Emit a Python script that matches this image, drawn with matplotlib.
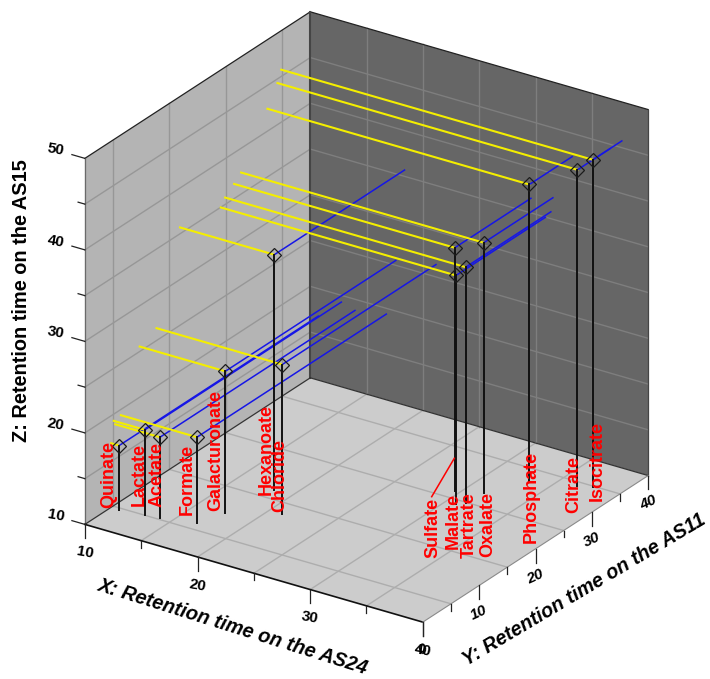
#!/usr/bin/env python3
import numpy as np
import matplotlib
matplotlib.use("Agg")
import matplotlib.pyplot as plt
from matplotlib.lines import Line2D
from mpl_toolkits.mplot3d import proj3d
from mpl_toolkits.mplot3d.art3d import Poly3DCollection

plt.rcParams["font.family"] = ["Liberation Sans", "DejaVu Sans"]

W, H = 710, 679

# retention times
names = ["Quinate", "Lactate", "Acetate", "Formate", "Galacturonate", "Hexanoate", "Chloride",
         "Sulfate", "Malate", "Tartrate", "Oxalate", "Phosphate", "Citrate", "Isocitrate"]
rt_x = [10.71, 12.76, 13.97, 16.75, 17.60, 18.37, 21.16, 30.88, 29.59, 31.36, 31.54, 33.25, 36.63, 37.66]
rt_y = [4.67, 5.13, 5.39, 6.40, 9.73, 16.89, 12.72, 24.12, 26.49, 24.89, 27.73, 32.40, 34.19, 34.85]
rt_z = [17.00, 19.26, 18.78, 19.37, 25.54, 35.69, 26.35, 34.98, 36.60, 35.75, 37.35, 42.45, 44.54, 45.74]

x_ticks = [10, 20, 30, 40]
y_ticks = [0, 10, 20, 30, 40]
z_ticks = [10, 20, 30, 40, 50]
x_minor = [15, 25, 35]
y_minor = [5, 15, 25, 35]
z_minor = [15, 25, 35, 45]
x_grid = [15, 20, 25, 30, 35]
y_grid = [5, 15, 25, 35]
z_grid = [15, 20, 25, 30, 35, 40, 45]

# label anchors in picture pixels: centre x, bottom y
label_pos = {
    "Quinate": (109, 508), "Lactate": (139, 506), "Acetate": (157, 507), "Formate": (187, 515),
    "Galacturonate": (216, 511), "Hexanoate": (266, 495), "Chloride": (280, 512),
    "Sulfate": (433, 558), "Malate": (453, 549), "Tartrate": (469, 558), "Oxalate": (488, 557),
    "Phosphate": (531, 543), "Citrate": (574, 513), "Isocitrate": (597, 501),
}

x0, x1 = 10, 40
y0, y1 = 0, 40
z0, z1 = 10, 50

fig = plt.figure(figsize=(W / 100, H / 100), dpi=100)
side = 683
ax = fig.add_axes([15.8 / W, 11.3 / H, side / W, side / H], projection="3d", proj_type="ortho")
ax.set_xlim(x0, x1)
ax.set_ylim(y0, y1)
ax.set_zlim(z0, z1)
ax.set_box_aspect((1, 1, 1))
ax.view_init(elev=25.7, azim=-56.3)
ax.computed_zorder = False
ax.set_axis_off()


def tick_label(x, y, z, s, **kw):
    # project by hand so the label is an ordinary 2D text
    px, py, _ = proj3d.proj_transform(x, y, z, ax.get_proj())
    ax.text2D(px, py, s, transform=ax.transData, ha="center", va="center", fontsize=11, fontweight="bold", zorder=9, **kw)


# walls
walls = [
    ([(x0, y0, z0), (x0, y1, z0), (x0, y1, z1), (x0, y0, z1)], "#b4b4b4"),
    ([(x0, y1, z0), (x1, y1, z0), (x1, y1, z1), (x0, y1, z1)], "#666666"),
    ([(x0, y0, z0), (x1, y0, z0), (x1, y1, z0), (x0, y1, z0)], "#cccccc"),
]
for verts, col in walls:
    ax.add_collection3d(Poly3DCollection([verts], facecolors=col, edgecolors="none", zorder=1))

# grid
left_col, back_col, floor_col = "#979797", "#7e7e7e", "#adadad"
for z in z_grid:
    ax.plot([x0, x0], [y0, y1], [z, z], color=left_col, lw=1.0, zorder=2)
    ax.plot([x0, x1], [y1, y1], [z, z], color=back_col, lw=1.0, zorder=2)
for y in y_grid:
    ax.plot([x0, x0], [y, y], [z0, z1], color=left_col, lw=1.0, zorder=2)
    ax.plot([x0, x1], [y, y], [z0, z0], color=floor_col, lw=1.0, zorder=2)
for x in x_grid:
    ax.plot([x, x], [y1, y1], [z0, z1], color=back_col, lw=1.0, zorder=2)
    ax.plot([x, x], [y0, y1], [z0, z0], color=floor_col, lw=1.0, zorder=2)

# box edges
ax.plot([x0, x0], [y0, y1], [z1, z1], color="#222222", lw=0.9, zorder=3)
ax.plot([x0, x1], [y1, y1], [z1, z1], color="#222222", lw=0.9, zorder=3)
ax.plot([x0, x0], [y0, y0], [z0, z1], color="#6a6a6a", lw=0.9, zorder=3)
ax.plot([x0, x0], [y1, y1], [z0, z1], color="#454545", lw=1.5, zorder=3)
ax.plot([x1, x1], [y1, y1], [z0, z1], color="#454545", lw=0.9, zorder=3)
ax.plot([x0, x1], [y1, y1], [z0, z0], color="#333333", lw=0.9, zorder=3)
ax.plot([x0, x0], [y0, y1], [z0, z0], color="#333333", lw=0.9, zorder=3)
ax.plot([x0, x1], [y0, y0], [z0, z0], color="#111111", lw=1.2, zorder=3)
ax.plot([x1, x1], [y0, y1], [z0, z0], color="#8a8a8a", lw=0.8, zorder=3)

# ticks
tick_col = "#222222"
for x in x_ticks:
    ax.plot([x, x], [y0, y0], [z0, z0 - 1.5], color=tick_col, lw=0.9, zorder=3)
    tick_label(x, y0, z0 - 3.1, str(x), rotation=-10)
for x in x_minor:
    ax.plot([x, x], [y0, y0], [z0, z0 - 0.75], color=tick_col, lw=0.9, zorder=3)
for y in y_ticks:
    ax.plot([x1, x1], [y, y], [z0, z0 - 1.5], color=tick_col, lw=0.9, zorder=3)
    tick_label(x1, y, z0 - 3.0, str(y), rotation=25, style="italic")
for y in y_minor:
    ax.plot([x1, x1], [y, y], [z0, z0 - 0.75], color=tick_col, lw=0.9, zorder=3)
for z in z_ticks:
    ax.plot([x0, x0 - 1.15], [y0, y0], [z, z], color=tick_col, lw=0.9, zorder=3)
    tick_label(x0 - 2.57, y0, z, str(z), rotation=-10)
for z in z_minor:
    ax.plot([x0, x0 - 0.6], [y0, y0], [z, z], color=tick_col, lw=0.9, zorder=3)

# one set of lines per compound: to each wall and down to the floor
for x, y, z in zip(rt_x, rt_y, rt_z):
    ax.plot([x0, x], [y, y], [z, z], color="#f4ee00", lw=1.5, zorder=4)
    ax.plot([x, x], [y, y1], [z, z], color="#1616e6", lw=1.1, zorder=4)
    ax.plot([x, x], [y, y], [z0, z], color="#111111", lw=1.4, zorder=5)
ax.plot(rt_x, rt_y, rt_z, ls="none", marker="D", ms=7.5, mfc="none", mec="#1c1c1c", mew=0.9, zorder=6)

# compound labels
for name in names:
    px, py = label_pos[name]
    fig.text(px / W, 1 - py / H, name, color="#ff0000", rotation=90, ha="center", va="bottom",
             fontsize=13, fontweight="bold")
fig.add_artist(Line2D([454.3 / W, 431.7 / W], [1 - 458.3 / H, 1 - 496.7 / H], color="#ff0000", lw=1.1))

# axis titles
fig.text(233 / W, 1 - 627 / H, "X: Retention time on the AS24", rotation=-17.4, rotation_mode="anchor",
         ha="center", va="center", fontsize=14.2, fontweight="bold", style="italic")
fig.text(584 / W, 1 - 590 / H, "Y: Retention time on the AS11", rotation=30.8, rotation_mode="anchor",
         ha="center", va="center", fontsize=14.2, fontweight="bold", style="italic")
fig.text(22 / W, 1 - 301 / H, "Z: Retention time on the AS15", rotation=90, rotation_mode="anchor",
         ha="center", va="center", fontsize=14.4, fontweight="bold")

fig.savefig("out.png", dpi=100)
